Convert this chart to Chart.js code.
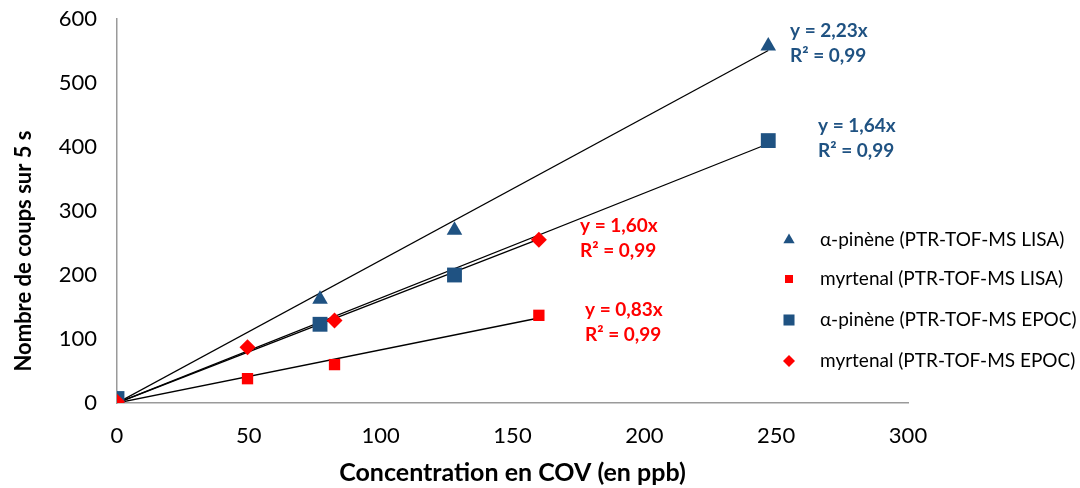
<!DOCTYPE html>
<html>
<head>
<meta charset="utf-8">
<script src="https://cdn.jsdelivr.net/npm/chart.js@4.4.1/dist/chart.umd.min.js"></script>
<style>
  html, body { margin: 0; padding: 0; background: #fff; }
  #wrap { width: 1080px; height: 488px; }
</style>
</head>
<body>
<div id="wrap"><canvas id="chart" width="1080" height="488"></canvas></div>
<script>
// Data
const seriesNames = [
  "α-pinène (PTR-TOF-MS LISA)",
  "myrtenal (PTR-TOF-MS LISA)",
  "α-pinène (PTR-TOF-MS EPOC)",
  "myrtenal (PTR-TOF-MS EPOC)"
];
const pineneLisaX = [0, 77, 128, 247];
const pineneLisaY = [5, 162, 270, 558];
const myrtenalLisaX = [0, 49.5, 82.5, 160];
const myrtenalLisaY = [0, 38, 60, 137];
const pineneEpocX = [0, 77, 128, 247];
const pineneEpocY = [7, 123, 200, 410];
const myrtenalEpocX = [0, 49.5, 82.5, 160];
const myrtenalEpocY = [2, 87, 129, 255];
// trend line slopes (forced through zero) and labels
const slopes = [2.23, 0.83, 1.64, 1.60];
const eqLabels = ["y = 2,23x", "y = 0,83x", "y = 1,64x", "y = 1,60x"];
const r2Labels = ["R² = 0,99", "R² = 0,99", "R² = 0,99", "R² = 0,99"];
const xTicks = [0, 50, 100, 150, 200, 250, 300];
const yTicks = [0, 100, 200, 300, 400, 500, 600];
const xTitle = "Concentration en COV (en ppb)";
const yTitle = "Nombre de coups sur 5 s";

const BLUE = "#1F5282";
const RED = "#FF0000";
const FONT = "Lato, 'Open Sans', sans-serif";

const pts = (xs, ys) => xs.map((x, i) => ({ x: x, y: ys[i] }));
const allX = [pineneLisaX, myrtenalLisaX, pineneEpocX, myrtenalEpocX];
const markers = [
  { color: BLUE, style: "triangle", r: 9, lr: 6.5 },
  { color: RED, style: "rect", r: 8, lr: 5.7 },
  { color: BLUE, style: "rect", r: 10.5, lr: 7.8 },
  { color: RED, style: "rectRot", r: 8, lr: 6 }
];
const pointSets = [
  pts(pineneLisaX, pineneLisaY),
  pts(myrtenalLisaX, myrtenalLisaY),
  pts(pineneEpocX, pineneEpocY),
  pts(myrtenalEpocX, myrtenalEpocY)
];

// Trend lines (black) go first so markers are drawn on top
const datasets = [];
slopes.forEach((s, i) => {
  const xmax = Math.max(...allX[i]);
  datasets.push({
    type: "line",
    label: "trend" + i,
    data: [{ x: 0, y: 0 }, { x: xmax, y: s * xmax }],
    borderColor: "#000",
    borderWidth: 1.3,
    pointRadius: 0,
    fill: false,
    order: 10
  });
});
pointSets.forEach((p, i) => {
  datasets.push({
    type: "scatter",
    label: seriesNames[i],
    data: p,
    backgroundColor: markers[i].color,
    borderColor: markers[i].color,
    borderWidth: 0,
    pointStyle: markers[i].style,
    pointRadius: markers[i].r,
    pointHoverRadius: markers[i].r,
    order: 4 - i
  });
});

// label placement (pixels relative to canvas)
const labelPos = [
  { x: 790, y: 31, color: BLUE },
  { x: 585, y: 310, color: RED },
  { x: 818, y: 126, color: BLUE },
  { x: 580, y: 226, color: RED }
];

const overlayPlugin = {
  id: "overlay",
  afterDraw(chart) {
    const ctx = chart.ctx;
    ctx.save();
    // equations
    ctx.font = "bold 19px " + FONT;
    ctx.textBaseline = "middle";
    ctx.textAlign = "left";
    labelPos.forEach((p, i) => {
      ctx.fillStyle = p.color;
      ctx.fillText(eqLabels[i], p.x, p.y);
      ctx.fillText(r2Labels[i], p.x, p.y + 25);
    });
    // y axis title (Excel places it a bit below the plot centre)
    ctx.save();
    ctx.translate(24, 251);
    ctx.rotate(-Math.PI / 2);
    ctx.textAlign = "center";
    ctx.fillStyle = "#000";
    ctx.font = "bold 22px " + FONT;
    ctx.fillText(yTitle, 0, 0);
    ctx.restore();
    // legend
    const rows = [240, 279, 320, 361];
    ctx.font = "19px " + FONT;
    seriesNames.forEach((name, i) => {
      const m = markers[i];
      ctx.fillStyle = m.color;
      ctx.strokeStyle = m.color;
      Chart.helpers.drawPoint(ctx, { pointStyle: m.style, radius: m.lr, rotation: 0, borderWidth: 0 }, 789, rows[i]);
      ctx.fillStyle = "#000";
      ctx.fillText(name, 820, rows[i]);
    });
    ctx.restore();
  }
};

new Chart(document.getElementById("chart"), {
  type: "scatter",
  data: { datasets: datasets },
  options: {
    responsive: false,
    animation: false,
    layout: { padding: { top: 19, right: 172, left: 0, bottom: 0 } },
    plugins: {
      legend: { display: false },
      tooltip: { enabled: false }
    },
    scales: {
      x: {
        type: "linear",
        min: 0,
        max: 300,
        afterBuildTicks: (s) => { s.ticks = xTicks.map(v => ({ value: v })); },
        afterFit: (s) => { s.height = 85; },
        grid: { display: false, drawTicks: false },
        border: { display: true, color: "#9a9a9a", width: 1.5 },
        ticks: { color: "#000", font: { family: FONT, size: 22 }, padding: 20 },
        title: {
          display: true,
          text: xTitle,
          color: "#000",
          font: { family: FONT, size: 25, weight: "bold" },
          padding: { top: 2, bottom: 0 }
        }
      },
      y: {
        type: "linear",
        min: 0,
        max: 600,
        afterBuildTicks: (s) => { s.ticks = yTicks.map(v => ({ value: v })); },
        afterFit: (s) => { s.width = 117; s.paddingTop = 0; s.paddingBottom = 0; },
        grid: { display: false, drawTicks: false },
        border: { display: true, color: "#9a9a9a", width: 1.5 },
        ticks: { color: "#000", font: { family: FONT, size: 22 }, padding: 20 }
      }
    }
  },
  plugins: [overlayPlugin]
});
</script>
</body>
</html>
